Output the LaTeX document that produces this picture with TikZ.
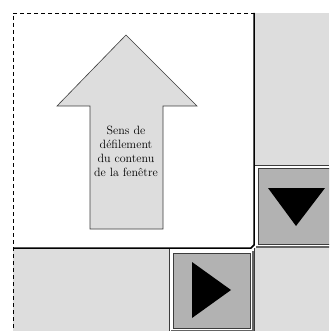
\documentclass[tikz,border=0pt]{standalone}
\usepackage{xcolor}
\usepackage{tikz}
\usetikzlibrary{calc, positioning}
\definecolor{piste}{RGB}{221,221,221}
\definecolor{bouton}{RGB}{178,178,178}
\definecolor{bord}{RGB}{60,60,60}
\definecolor{ombre}{RGB}{100,100,100}

\begin{document}
\begin{tikzpicture}[x=1pt, y=-1pt,
    btn/.style={draw=bord, fill=bouton, line width=1.2pt, inner sep=0pt},
    fleche/.style={fill=piste, draw=bord, line width=0.6pt}]
    \clip (0,0) rectangle (329,331);
    % Fond de la fenêtre
    \fill[white] (13,13) rectangle (329,331);
    % Pistes des barres de défilement
    \fill[piste] (254,13) rectangle (329,165);
    \fill[piste] (13,248) rectangle (169,331);
    \fill[piste] (254,248) rectangle (329,331);
    \draw[bord, line width=0.8pt] (254,165) -- (329,165);
    \draw[bord, line width=0.8pt] (169,248) -- (169,331);
    % Bords de la zone visible
    \draw[line width=1.5pt] (13,248) -- (251,248) -- (254,245) -- (254,13);
    \draw[bord, line width=1pt] (254,248) -- (254,331);
    \draw[dashed, dash pattern=on 4pt off 3pt, line width=0.8pt] (255,13) -- (13,13) -- (13,331);
    % Boutons
    \node[btn, minimum width=76pt, minimum height=76pt, anchor=north west] (btnbas) at (258,168) {};
    \node[btn, minimum width=77pt, minimum height=75pt, anchor=north west] (btndroite) at (173,253) {};
    \draw[ombre, line width=2pt] ($(btnbas.south west)+(-2,2)$) -- ++(80,0);
    \draw[ombre, line width=2pt] ($(btndroite.north east)+(2,-2)$) -- ($(btndroite.south east)+(2,2)$) -- ++(-82,0);
    \fill (268,188) -- (325,188) -- (296,226) -- cycle;
    \fill (192,262) -- (192,318) -- (231,290) -- cycle;
    % Flèche
    \draw[fleche] (126,35) -- (197,106) -- (163,106) -- (163,229) -- (90,229) -- (90,106) -- (57,106) -- cycle;
    \node[align=center, font=\fontsize{12}{14}\selectfont] (sens) at (126,151) {Sens de\\défilement\\du contenu\\de la fenêtre};
\end{tikzpicture}
\end{document}
